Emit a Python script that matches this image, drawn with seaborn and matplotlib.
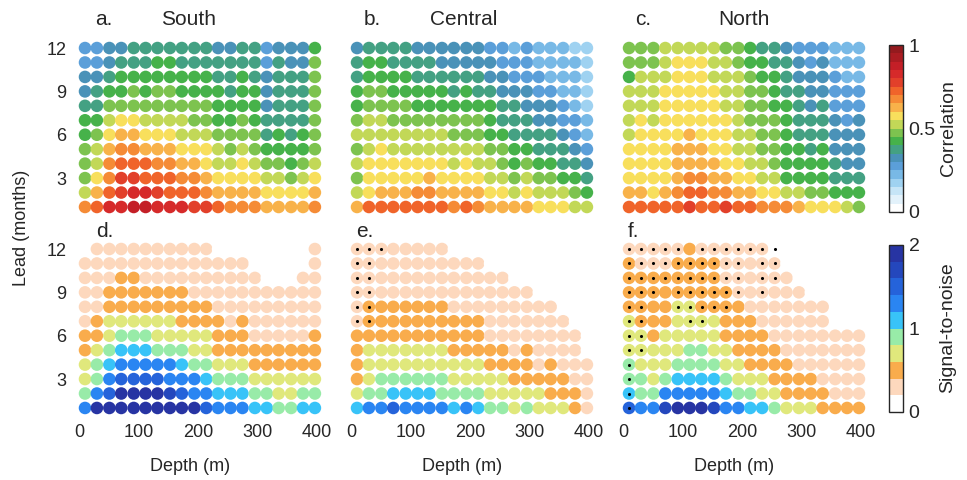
import numpy as np
import pandas as pd
import matplotlib
matplotlib.use('Agg')
import matplotlib.pyplot as plt
import matplotlib.colors as mcolors
import matplotlib.cm as cm
import seaborn as sns

# Style Setting
sns.set_style("white")
plt.rcParams.update({'font.size': 13, 'font.family': ['Liberation Sans', 'DejaVu Sans']})

### Config ###
depth = [10, 30, 51, 71, 92, 112, 132, 153, 173, 194, 214, 234, 255, 275, 296, 316, 336, 357, 377, 397]
leads = list(range(12, 0, -1))  # rows are listed top (lead 12) to bottom (lead 1)
regions = ['South', 'Central', 'North']

# correlation, one character per dot = 0.05 bin index (base 36)
corr_south = ["55667777777667756668", "55677788777777757669", "66788888888778767779",
              "67889899888878867779", "77999999999888867779", "88abbaaaa99889877779",
              "89bccbbbaaa999978789", "9acddcccbbba9a988889", "9adeeeddccbaaba9989a",
              "9bdffeeeddcbbbbaa9ab", "acefggfeeedccccbbbbc", "degghhgggffedddccccd"]
corr_central = ["67777666666554544433", "78877776666655544443", "78888777777665554443",
                "89988888787766655443", "89999888888877666543", "9aa99999999877766554",
                "aaaaaaaa999887777654", "9abaaaaaaaa998877765", "abbbbbbbabaa98988776",
                "9bbbbbcbbbbaa9a99887", "abcccddccccbbabaaa98", "ceeeeeeededccccbbbaa"]
corr_north = ["999aaaaa998776555444", "999abbbaa98877656444", "8aaabbbaaa9887666544",
              "aaabbbbbaa9987766555", "aaabbbbbaa9988767555", "ababbbbbba9998777656",
              "abbbbcbbbaa998777666", "bbbbcccbbaa998878666", "bbbbccccbbaa98888766",
              "bbbbcddccbbaa8888777", "ccbcdeeddccbbaa99888", "eeeeefeefeedddcbbba9"]

# signal-to-noise, one character per dot = 0.2 bin index
snr_south = ["01111111111000000001", "11111111111111000001", "11122111111111100011",
             "11222222211111111111", "11222222222111111111", "12333333222212111111",
             "22344433333222111112", "23455544433222222222", "34566666544333222222",
             "34677776665444333333", "46799998766555443344", "69999999997666554455"]
snr_central = ["11111111000000000000", "11111111111000000000", "11111111111110000000",
               "11111111111111100000", "12222222111111111000", "12222222222111111100",
               "22222222222111111110", "23333333222221211110", "23333333333222212111",
               "23444444333332222211", "34455554444333332221", "56676666565443433321"]
snr_north = ["11111211111100000000", "21112222111110000000", "22222222111111000000",
             "22222222211111100000", "22223322221111111000", "32223333222111111000",
             "33233333222211111111", "33333443322221111111", "43334444332222111111",
             "44345555433322221111", "54466666544332222111", "76689998665543332222"]

# significance markers (x = marked)
sig_central = ["xxx.................", "xx..................", "xx..................",
               "xx..................", "xx..................", "xx..................",
               "....................", "....................", "....................",
               "....................", "....................", "...................."]
sig_north = ["xxxxx.xxxxxxx.......", "xxxxxxxxxx.xx.......", "xxxxxxxxxx.xx.......",
             "xxx.xxxxxx.x........", "xx..xxxxx...........", "xx...xx.............",
             "xx..................", "xx..................", "x...................",
             "x...................", "x...................", "x..................."]

corr_colors = ['#ffffff', '#e3f2fb', '#c6e5f7', '#9fd2f1', '#78b9e6', '#5b9fd9', '#4a92b8',
               '#44a183', '#46b24a', '#7dc34f', '#c2d857', '#f8df5c', '#f8b24a', '#f58b36',
               '#f0642a', '#e2402a', '#d62a2a', '#c41f27', '#ab1c22', '#941a1e']
snr_colors = ['#ffffff', '#fdd8bd', '#f9ac4c', '#e0e87c', '#98eba8', '#38c3f8', '#2a85f2',
              '#2563da', '#2447bd', '#2734a3']
corr_cmap = mcolors.ListedColormap(corr_colors)
snr_cmap = mcolors.ListedColormap(snr_colors)


def to_frame(rows, step):
    recs = []
    for lead_val, row in zip(leads, rows):
        for d, ch in zip(depth, row):
            recs.append((d, lead_val, (int(ch, 36) + 0.5) * step))
    return pd.DataFrame(recs, columns=['depth', 'lead', 'value'])


def sig_frame(rows):
    recs = []
    for lead_val, row in zip(leads, rows):
        for d, ch in zip(depth, row):
            if ch == 'x':
                recs.append((d, lead_val))
    return pd.DataFrame(recs, columns=['depth', 'lead'])


fig = plt.figure(figsize=(9.67, 4.8), dpi=100)

lefts = [0.0744, 0.3557, 0.6370]
bottoms = [0.5477, 0.1290]
w, h = 0.2623, 0.3733

top_data = [corr_south, corr_central, corr_north]
bot_data = [snr_south, snr_central, snr_north]
sig_data = [None, sig_central, sig_north]
top_letters = ['a.', 'b.', 'c.']
bot_letters = ['d.', 'e.', 'f.']
letter_x_top = [27, 22, 20]
name_x = [185, 190, 204]
letter_x_bot = [28, 8, 8]

for i in range(3):
    # correlation panel
    ax = fig.add_axes([lefts[i], bottoms[0], w, h])
    df = to_frame(top_data[i], 0.05)
    sns.scatterplot(data=df, x='depth', y='lead', hue='value', palette=corr_cmap,
                    hue_norm=(0, 1), s=82, linewidth=0, legend=False, ax=ax)
    ax.text(letter_x_top[i], 13.95, top_letters[i], fontsize=15, va='center', ha='left')
    ax.text(name_x[i], 13.95, regions[i], fontsize=15, va='center', ha='center')

    # signal-to-noise panel
    bx = fig.add_axes([lefts[i], bottoms[1], w, h])
    df = to_frame(bot_data[i], 0.2)
    sns.scatterplot(data=df, x='depth', y='lead', hue='value', palette=snr_cmap,
                    hue_norm=(0, 2), s=82, linewidth=0, legend=False, ax=bx)
    if sig_data[i] is not None:
        sdf = sig_frame(sig_data[i])
        sns.scatterplot(data=sdf, x='depth', y='lead', color='k', s=5, linewidth=0,
                        legend=False, ax=bx)
    bx.text(letter_x_bot[i], 13.2, bot_letters[i], fontsize=15, va='center', ha='left')

    for a in (ax, bx):
        a.set_xlim(-12, 415)
        a.set_ylim(0.3, 12.7)
        for sp in a.spines.values():
            sp.set_visible(False)
        a.tick_params(length=0, pad=4, labelsize=13)
        a.set_ylabel('')
        a.set_xlabel('')
        a.set_yticks([3, 6, 9, 12])
        a.set_xticks([0, 100, 200, 300, 400])
        if i > 0:
            a.set_yticklabels([])
    ax.set_xticklabels([])
    bx.set_xlabel('Depth (m)', fontsize=13)
    bx.xaxis.set_label_coords(0.466, -0.22)

fig.text(22 / 967, 1 - 228 / 480, 'Lead (months)', rotation=90, ha='center', va='center', fontsize=13)

# colorbars
cax1 = fig.add_axes([889 / 967, 1 - 212 / 480, 14 / 967, 167 / 480])
cb1 = fig.colorbar(cm.ScalarMappable(norm=mcolors.Normalize(0, 1), cmap=corr_cmap), cax=cax1,
                   ticks=[0, 0.5, 1])
cb1.ax.set_yticklabels(['0', '0.5', '1'])
cax2 = fig.add_axes([889 / 967, 1 - 412 / 480, 14 / 967, 167 / 480])
cb2 = fig.colorbar(cm.ScalarMappable(norm=mcolors.Normalize(0, 2), cmap=snr_cmap), cax=cax2,
                   ticks=[0, 1, 2])
cb2.ax.set_yticklabels(['0', '1', '2'])
for cb in (cb1, cb2):
    cb.outline.set_linewidth(1.0)
    cb.ax.tick_params(length=3, direction='in', width=0.8, labelsize=14, pad=4)

fig.text(948 / 967, 1 - 128 / 480, 'Correlation', rotation=90, ha='center', va='center', fontsize=14)
fig.text(948 / 967, 1 - 328 / 480, 'Signal-to-noise', rotation=90, ha='center', va='center', fontsize=14)

fig.savefig('out.png', dpi=100)
